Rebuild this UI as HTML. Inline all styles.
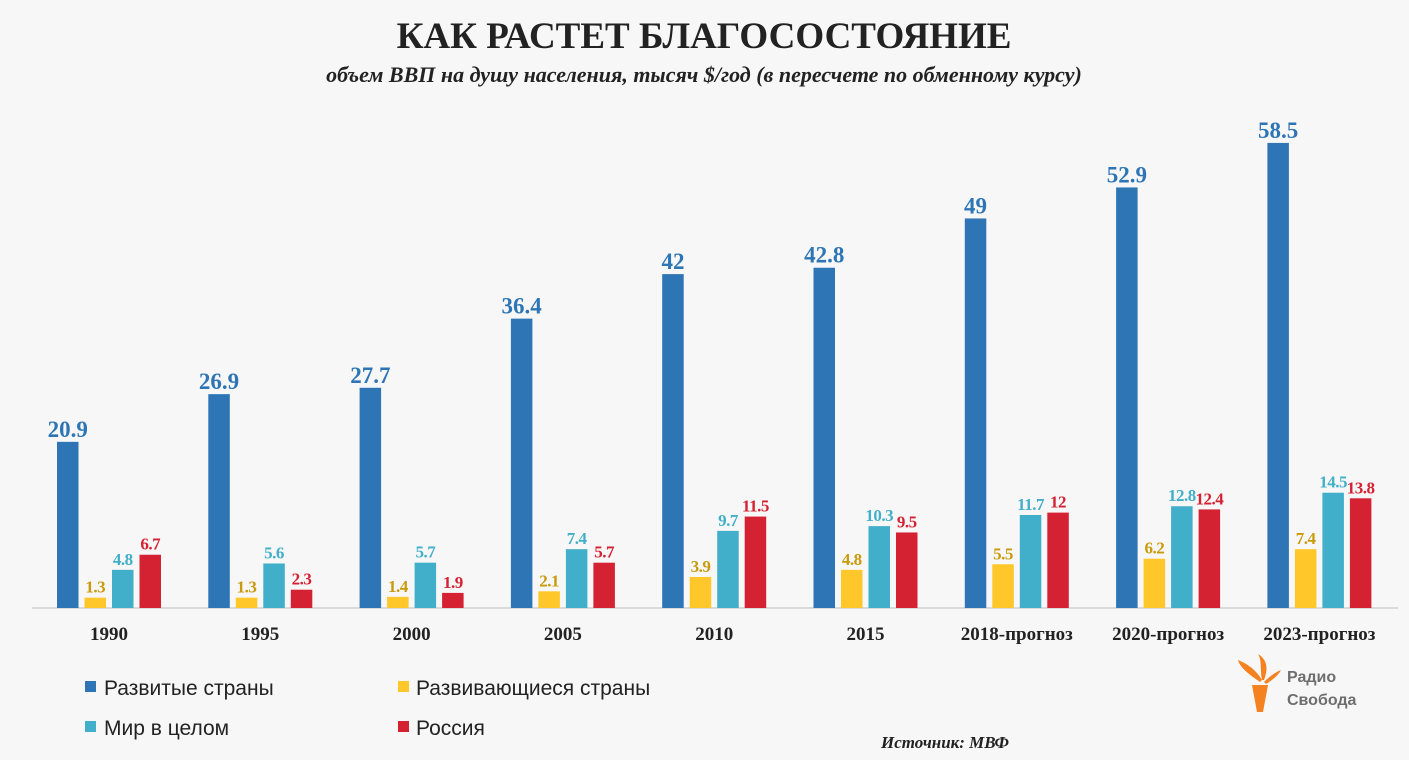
<!DOCTYPE html>
<html><head><meta charset="utf-8"><style>
body{margin:0;background:#f7f7f7;}
#c{position:relative;width:1409px;height:760px;background:#f7f7f7;overflow:hidden;font-family:"Liberation Serif",serif;}
</style></head><body>
<div id="c">
<svg id="s" width="1409" height="760" xmlns="http://www.w3.org/2000/svg">
<text x="704" y="48" text-anchor="middle" font-family="Liberation Serif,serif" font-weight="bold" font-size="37" fill="#222">КАК РАСТЕТ БЛАГОСОСТОЯНИЕ</text>
<text x="704" y="82" text-anchor="middle" font-family="Liberation Serif,serif" font-weight="bold" font-style="italic" font-size="22" fill="#222">объем ВВП на душу населения, тысяч $/год (в пересчете по обменному курсу)</text>
<line x1="32" y1="608" x2="1398" y2="608" stroke="#d0d0d0" stroke-width="1.5"/>
<g id="bars"></g>
<g font-family="Liberation Sans,sans-serif" font-size="21" fill="#222">
<rect x="85" y="681" width="11" height="11" fill="#2e75b6"/>
<text x="104" y="695">Развитые страны</text>
<rect x="398" y="681" width="11" height="11" fill="#ffc729"/>
<text x="416" y="695">Развивающиеся страны</text>
<rect x="85" y="721" width="11" height="11" fill="#41afc9"/>
<text x="104" y="735">Мир в целом</text>
<rect x="398" y="721" width="11" height="11" fill="#d42232"/>
<text x="416" y="735">Россия</text>
</g>
<text x="945" y="748" text-anchor="middle" font-weight="bold" font-style="italic" font-size="17" fill="#222">Источник: МВФ</text>
<g>
<path d="M1252 685 L1268 685 L1263 712 L1257 712 Z" fill="#f58220"/>
<path d="M1260 682 C1250 675 1240 668 1238 660 C1248 664 1256 670 1262 680 Z" fill="#f58220"/>
<path d="M1262 680 C1260 670 1262 660 1258 654 C1268 660 1268 670 1264 680 Z" fill="#f58220"/>
<path d="M1264 682 C1270 676 1276 672 1281 670 C1278 676 1272 680 1266 684 Z" fill="#f58220"/>
<text x="1287" y="682" font-family="Liberation Sans,sans-serif" font-weight="bold" font-size="16" fill="#6e6e6e">Радио</text>
<text x="1287" y="705" font-family="Liberation Sans,sans-serif" font-weight="bold" font-size="16" fill="#6e6e6e">Свобода</text>
</g>
</svg>
</div>
<script>
const categories=["1990","1995","2000","2005","2010","2015","2018-прогноз","2020-прогноз","2023-прогноз"];
const developed=[20.9,26.9,27.7,36.4,42,42.8,49,52.9,58.5];
const developing=[1.3,1.3,1.4,2.1,3.9,4.8,5.5,6.2,7.4];
const world=[4.8,5.6,5.7,7.4,9.7,10.3,11.7,12.8,14.5];
const russia=[6.7,2.3,1.9,5.7,11.5,9.5,12,12.4,13.8];
const series=[
 {name:"developed",vals:developed,fill:"#2e75b6",lab:"#2e75b6"},
 {name:"developing",vals:developing,fill:"#ffc729",lab:"#c99a0a"},
 {name:"world",vals:world,fill:"#41afc9",lab:"#41afc9"},
 {name:"russia",vals:russia,fill:"#d42232",lab:"#d42232"}];
const NS="http://www.w3.org/2000/svg";
const base=608, k=7.95, g0=57, gStep=151.3, bStep=27.5, bw=21.5;
const y=v=>base-v*k;
const x=(i,j)=>g0+i*gStep+j*bStep;
const G=document.getElementById('bars');
categories.forEach((c,i)=>{
 series.forEach((s,j)=>{
  const v=s.vals[i];
  const r=document.createElementNS(NS,'rect');
  r.setAttribute('x',x(i,j));r.setAttribute('y',y(v));r.setAttribute('width',bw);r.setAttribute('height',v*k);r.setAttribute('fill',s.fill);
  
  
  G.appendChild(r);
  const t=document.createElementNS(NS,'text');
  t.setAttribute('x',x(i,j)+bw/2);t.setAttribute('y',y(v)-5);t.setAttribute('text-anchor','middle');
  t.setAttribute('font-weight','bold');t.setAttribute('font-size',j==0?23:17);t.setAttribute('fill',s.lab);
  if(j>0) t.setAttribute('letter-spacing','-0.5');
  t.textContent=String(v);
  
  
  G.appendChild(t);
 });
 const l=document.createElementNS(NS,'text');
 l.setAttribute('x',x(i,0)+(3*bStep+bw)/2);l.setAttribute('y',640);l.setAttribute('text-anchor','middle');
 l.setAttribute('font-weight','bold');l.setAttribute('font-size',19);l.setAttribute('fill','#222');
 l.textContent=c;
 
 
 G.appendChild(l);
});
</script>
</body></html>
